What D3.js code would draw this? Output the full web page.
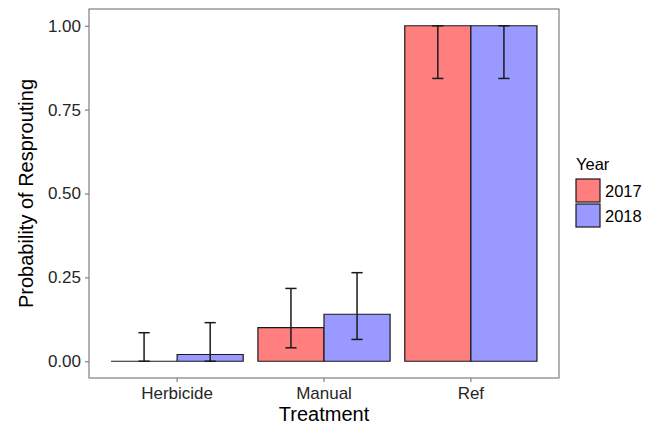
<!DOCTYPE html>
<html>
<head>
<meta charset="utf-8">
<script src="https://cdn.jsdelivr.net/npm/d3@7"></script>
<style>
  body { margin: 0; background: #fff; }
  text { font-family: "Liberation Sans", Arial, sans-serif; }
</style>
</head>
<body>
<svg class="chart" width="655" height="425"></svg>
<script>
// data
const treatments = ["Herbicide", "Manual", "Ref"];
const years = ["2017", "2018"];
const prob2017 = [0.0, 0.10, 1.0];
const prob2018 = [0.02, 0.14, 1.0];
const lower2017 = [0.0, 0.04, 0.843];
const upper2017 = [0.085, 0.217, 1.0];
const lower2018 = [0.0, 0.065, 0.843];
const upper2018 = [0.115, 0.264, 1.0];
const yTicks = [0, 0.25, 0.5, 0.75, 1.0];

const colors = { "2017": "#ff7f7f", "2018": "#9999ff" };

const panel = { left: 89, top: 9, right: 559, bottom: 378 };

const svg = d3.select(".chart");

// build rows for each bar
const rows = [];
treatments.forEach((t, i) => {
  rows.push({ treat: t, year: "2017", value: prob2017[i], lo: lower2017[i], hi: upper2017[i] });
  rows.push({ treat: t, year: "2018", value: prob2018[i], lo: lower2018[i], hi: upper2018[i] });
});

// Set the x-scale (dodged bars)
const xScale = d3
  .scaleBand()
  .domain(treatments)
  .range([panel.left, panel.right])
  .paddingInner(0.1)
  .paddingOuter(0.15);

const xSub = d3
  .scaleBand()
  .domain(years)
  .range([0, xScale.bandwidth()]);

// Set the y-scale with ggplot's 5% expansion
const yScale = d3
  .scaleLinear()
  .domain([-0.05, 1.05])
  .range([panel.bottom, panel.top]);

const barX = d => xScale(d.treat) + xSub(d.year);
const midX = d => barX(d) + xSub.bandwidth() / 2;

// bars as closed paths so a zero-height bar still shows its outline
svg
  .selectAll(".bar")
  .data(rows)
  .enter()
  .append("path")
  .attr("class", "bar")
  .attr("d", d => {
    const x0 = barX(d), x1 = x0 + xSub.bandwidth();
    const y0 = yScale(0), y1 = yScale(d.value);
    return `M${x0},${y0}L${x0},${y1}L${x1},${y1}L${x1},${y0}Z`;
  })
  .attr("fill", d => colors[d.year])
  .attr("stroke", "#1a1a1a")
  .attr("stroke-width", 1.2);

// error bars
const capHalf = xSub.bandwidth() * 0.085;
const eb = svg
  .selectAll(".err")
  .data(rows)
  .enter()
  .append("g")
  .attr("class", "err")
  .attr("stroke", "#1a1a1a")
  .attr("stroke-width", 1.5);

eb.append("line")
  .attr("x1", midX)
  .attr("x2", midX)
  .attr("y1", d => yScale(d.lo))
  .attr("y2", d => yScale(d.hi));

eb.append("line")
  .attr("x1", d => midX(d) - capHalf)
  .attr("x2", d => midX(d) + capHalf)
  .attr("y1", d => yScale(d.hi))
  .attr("y2", d => yScale(d.hi));

eb.append("line")
  .attr("x1", d => midX(d) - capHalf)
  .attr("x2", d => midX(d) + capHalf)
  .attr("y1", d => yScale(d.lo))
  .attr("y2", d => yScale(d.lo));

// panel border
svg
  .append("rect")
  .attr("x", panel.left)
  .attr("y", panel.top)
  .attr("width", panel.right - panel.left)
  .attr("height", panel.bottom - panel.top)
  .attr("fill", "none")
  .attr("stroke", "#7f7f7f")
  .attr("stroke-width", 1.2);

// axes
const yAxis = svg
  .append("g")
  .attr("transform", `translate(${panel.left}, 0)`)
  .call(d3.axisLeft(yScale).tickValues(yTicks).tickFormat(d3.format(".2f")).tickSize(4).tickPadding(4));

const xAxis = svg
  .append("g")
  .attr("transform", `translate(0, ${panel.bottom})`)
  .call(d3.axisBottom(xScale).tickSize(4).tickPadding(5));

[yAxis, xAxis].forEach(a => {
  a.select(".domain").remove();
  a.selectAll(".tick line").attr("stroke", "#7f7f7f").attr("stroke-width", 1.2);
  a.selectAll(".tick text")
    .attr("fill", "#262626")
    .style("font-size", "17px")
    .style("font-family", '"Liberation Sans", Arial, sans-serif');
});

// axis titles
svg
  .append("text")
  .attr("x", (panel.left + panel.right) / 2)
  .attr("y", 421)
  .attr("text-anchor", "middle")
  .style("font-size", "20px")
  .attr("fill", "#000")
  .text("Treatment");

svg
  .append("text")
  .attr("transform", `translate(33, ${(panel.top + panel.bottom) / 2}) rotate(-90)`)
  .attr("text-anchor", "middle")
  .style("font-size", "20px")
  .attr("fill", "#000")
  .text("Probability of Resprouting");

// legend
const legend = svg.append("g").attr("transform", "translate(576, 0)");
legend
  .append("text")
  .attr("x", 0)
  .attr("y", 170)
  .style("font-size", "16.5px")
  .text("Year");

const keys = legend
  .selectAll(".key")
  .data(years)
  .enter()
  .append("g")
  .attr("class", "key")
  .attr("transform", (d, i) => `translate(0, ${179 + i * 25})`);

keys
  .append("rect")
  .attr("width", 24)
  .attr("height", 23)
  .attr("fill", d => colors[d])
  .attr("stroke", "#1a1a1a")
  .attr("stroke-width", 1.2);

keys
  .append("text")
  .attr("x", 29)
  .attr("y", 17.5)
  .style("font-size", "16.5px")
  .text(d => d);
</script>
</body>
</html>
